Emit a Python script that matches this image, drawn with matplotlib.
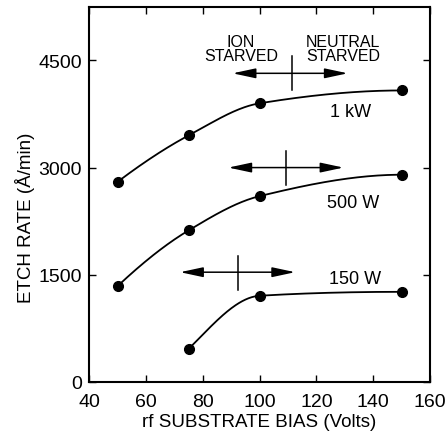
import numpy as np
import matplotlib
matplotlib.use("Agg")
import matplotlib.pyplot as plt

plt.rcParams['font.family'] = ['Liberation Sans', 'DejaVu Sans']

# data
bias_1kw = [50, 75, 100, 150]
rate_1kw = [2800, 3450, 3900, 4080]
bias_500w = [50, 75, 100, 150]
rate_500w = [1340, 2120, 2600, 2900]
bias_150w = [75, 100, 150]
rate_150w = [460, 1205, 1260]

series_labels = ["1 kW", "500 W", "150 W"]
label_pos = [(132, 3780), (133, 2510), (133.5, 1440)]

# transition markers: (left end, right end, centre, arrow level, bar bottom, bar top)
transitions = [
    (90.5, 131, 111.3, 4320, 4080, 4560),
    (89, 129.5, 109.3, 3000, 2760, 3230),
    (72, 112.5, 92.3, 1535, 1285, 1760),
]


def pchip(x, y, xs):
    # monotone cubic through the measured points, only used to draw the smooth line
    x = np.asarray(x, float)
    y = np.asarray(y, float)
    h = np.diff(x)
    d = np.diff(y) / h
    m = np.zeros_like(y)
    m[0], m[-1] = d[0], d[-1]
    for i in range(1, len(x) - 1):
        if d[i - 1] * d[i] > 0:
            w1 = 2 * h[i] + h[i - 1]
            w2 = h[i] + 2 * h[i - 1]
            m[i] = (w1 + w2) / (w1 / d[i - 1] + w2 / d[i])
    if len(x) > 2:
        m[0] = ((2 * h[0] + h[1]) * d[0] - h[0] * d[1]) / (h[0] + h[1])
        if np.sign(m[0]) != np.sign(d[0]):
            m[0] = 0
        m[-1] = ((2 * h[-1] + h[-2]) * d[-1] - h[-1] * d[-2]) / (h[-1] + h[-2])
        if np.sign(m[-1]) != np.sign(d[-1]):
            m[-1] = 0
    idx = np.clip(np.searchsorted(x, xs) - 1, 0, len(x) - 2)
    t = (xs - x[idx]) / h[idx]
    h00 = 2 * t**3 - 3 * t**2 + 1
    h10 = t**3 - 2 * t**2 + t
    h01 = -2 * t**3 + 3 * t**2
    h11 = t**3 - t**2
    return h00 * y[idx] + h10 * h[idx] * m[idx] + h01 * y[idx + 1] + h11 * h[idx] * m[idx + 1]


fig = plt.figure(figsize=(4.48, 4.39), dpi=100)
ax = fig.add_axes([0.199, 0.128, 0.761, 0.854])

for bx, ry in [(bias_1kw, rate_1kw), (bias_500w, rate_500w), (bias_150w, rate_150w)]:
    xs = np.linspace(bx[0], bx[-1], 200)
    ax.plot(xs, pchip(bx, ry, xs), color='black', lw=1.3)
    ax.plot(bx, ry, 'o', color='black', ms=7)

for lab, (lx, ly) in zip(series_labels, label_pos):
    ax.text(lx, ly, lab, ha='center', va='center', fontsize=13)

for x0, x1, xc, yl, yb, yt in transitions:
    ax.annotate('', xy=(x0, yl), xytext=(x1, yl),
                arrowprops=dict(arrowstyle='<|-|>,head_length=1.4,head_width=0.3',
                                color='black', lw=1.1, shrinkA=0, shrinkB=0))
    ax.plot([xc, xc], [yb, yt], color='black', lw=1.1)

ax.text(93.4, 4460, 'ION\nSTARVED', ha='center', va='bottom', fontsize=11.5, linespacing=0.95)
ax.text(129.4, 4460, 'NEUTRAL\nSTARVED', ha='center', va='bottom', fontsize=11.5, linespacing=0.95)

ax.set_xlim(40, 160)
ax.set_ylim(0, 5250)
ax.set_xticks([40, 60, 80, 100, 120, 140, 160])
ax.set_yticks([0, 1500, 3000, 4500])
ax.tick_params(direction='in', top=True, right=True, length=5, width=1, labelsize=14)
ax.tick_params(axis='x', pad=8)
ax.tick_params(axis='y', pad=5)
for s in ax.spines.values():
    s.set_linewidth(1.5)

ax.set_xlabel('rf SUBSTRATE BIAS (Volts)', fontsize=13.5, labelpad=2)
ax.set_ylabel('ETCH RATE (Å/min)', fontsize=13.5)
ax.yaxis.set_label_coords(-0.16, 0.44)

fig.savefig('out.png', dpi=100)
